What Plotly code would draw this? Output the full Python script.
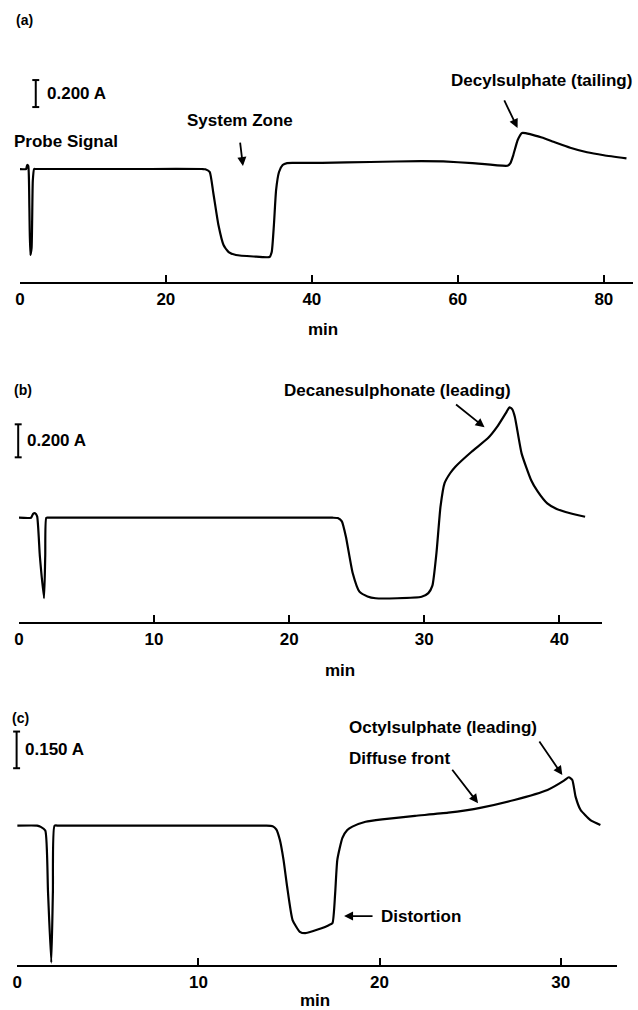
import plotly.graph_objects as go

# ---------------- data (time in min, signal in A, relative to baseline of each axis) ----------
a_t = [0, 0.85, 1.0, 1.15, 1.3, 1.43, 1.6, 1.77, 1.95, 2.15, 10.0, 18.0, 25.0, 25.4, 26.0,
       26.5, 27.2, 27.9, 28.6, 29.6, 32.0, 34.2, 34.5, 34.8, 35.1, 35.5, 36.0, 36.6, 38.0,
       41.4, 48.0, 55.0, 58.0, 62.0, 66.8, 67.2, 67.6, 68.2, 68.8, 70.0, 71.5, 73.1, 75.4,
       77.7, 80.0, 83.1]
a_v = [0.837, 0.837, 0.867, 0.859, 0.55, 0.200, 0.25, 0.75, 0.837, 0.837, 0.837, 0.837,
       0.837, 0.835, 0.815, 0.659, 0.422, 0.274, 0.222, 0.200, 0.189, 0.185, 0.222, 0.422,
       0.681, 0.815, 0.867, 0.881, 0.882, 0.883, 0.889, 0.896, 0.893, 0.881, 0.861, 0.881,
       0.941, 1.052, 1.104, 1.094, 1.070, 1.039, 0.995, 0.961, 0.939, 0.916]

b_t = [0, 0.9, 1.05, 1.2, 1.35, 1.55, 1.86, 1.95, 2.03, 2.25, 8.0, 16.0, 23.2, 23.6, 23.9,
       24.2, 24.7, 25.2, 25.8, 26.4, 28.0, 29.8, 30.3, 30.6, 30.9, 31.2, 31.5, 31.9, 32.3,
       33.5, 34.7, 35.4, 36.1, 36.3, 36.5, 36.7, 37.2, 37.9, 38.4, 39.1, 39.8, 40.8, 41.9]
b_v = [0.632, 0.632, 0.655, 0.659, 0.64, 0.40, 0.144, 0.40, 0.632, 0.632, 0.632, 0.632,
       0.632, 0.630, 0.61, 0.517, 0.297, 0.184, 0.155, 0.144, 0.144, 0.153, 0.175, 0.22,
       0.418, 0.699, 0.841, 0.90, 0.941, 1.032, 1.113, 1.184, 1.275, 1.301, 1.29, 1.244,
       1.022, 0.861, 0.79, 0.719, 0.685, 0.659, 0.638]

c_t = [0, 1.1, 1.3, 1.55, 1.7, 1.88, 1.97, 2.06, 2.3, 6.0, 10.0, 13.7, 14.1, 14.3, 14.5,
       14.7, 14.9, 15.2, 15.6, 15.9, 16.3, 16.8, 17.2, 17.4, 17.55, 17.67, 17.95, 18.22,
       18.5, 19.23, 20.14, 21.96, 23.79, 25.62, 27.44, 29.27, 30.18, 30.45, 30.64, 30.82,
       31.1, 31.64, 32.19]
c_v = [0.570, 0.570, 0.565, 0.55, 0.30, 0.01, 0.30, 0.570, 0.570, 0.570, 0.570, 0.570,
       0.568, 0.555, 0.511, 0.430, 0.320, 0.184, 0.136, 0.130, 0.138, 0.150, 0.163, 0.171,
       0.293, 0.43, 0.52, 0.552, 0.566, 0.586, 0.596, 0.610, 0.623, 0.644, 0.675, 0.716,
       0.754, 0.768, 0.757, 0.689, 0.634, 0.593, 0.573]

a_ticks = [0, 20, 40, 60, 80]
b_ticks = [0, 10, 20, 30, 40]
c_ticks = [0, 10, 20, 30]

a_scale = 0.200
b_scale = 0.200
c_scale = 0.150

# ---------------- figure ----------------
W, H = 638, 1010
FONT = "Liberation Sans"
fig = go.Figure()

panels = [
    # (t, v, xaxis, yaxis, xdomain(px), ydomain(px top,bottom), xrange, yrange, ticks)
    (a_t, a_v, "x", "y", (15, 633), (10, 282), [0, 84], [0, 2.015], a_ticks),
    (b_t, b_v, "x2", "y2", (14, 601.7), (340, 622), [0, 43.15], [0, 1.709], b_ticks),
    (c_t, c_v, "x3", "y3", (12.3, 616.7), (690, 965), [0, 33.1], [0, 1.125], c_ticks),
]

for i, (t, v, xa, ya, xd, yd, xr, yr, tk) in enumerate(panels):
    fig.add_trace(go.Scatter(x=t, y=v, xaxis=xa, yaxis=ya, mode="lines",
                             line=dict(color="black", width=2.2, shape="spline", smoothing=0.5),
                             hoverinfo="skip"))
    sfx = "" if i == 0 else str(i + 1)
    fig.update_layout(**{
        "xaxis" + sfx: dict(domain=[xd[0] / W, xd[1] / W], range=xr, anchor="y" + sfx,
                            showline=True, linecolor="black", linewidth=2,
                            ticks="inside", ticklen=7, tickwidth=2, tickcolor="black",
                            tickvals=tk, ticktext=[str(x) for x in tk],
                            tickfont=dict(family=FONT, size=17, color="black", weight="bold"),
                            ticklabelstandoff=1,
                            showgrid=False, zeroline=False, fixedrange=True),
        "yaxis" + sfx: dict(domain=[1 - yd[1] / H, 1 - yd[0] / H], range=yr,
                            anchor="x" + sfx, visible=False, fixedrange=True),
    })

ann = []

def label(text, x, y, xref, yref, size=17, xanchor="left"):
    ann.append(dict(text=text, x=x, y=y, xref=xref, yref=yref, showarrow=False,
                    xanchor=xanchor, yanchor="middle", xshift=-3 if xanchor == "left" else 0,
                    font=dict(family=FONT, size=size, color="black", weight="bold")))

def plabel(text, px, py, size=17, xanchor="left"):
    label(text, px / W, 1 - py / H, "paper", "paper", size=size, xanchor=xanchor)

def arrow(x, y, ax, ay, xref, yref):
    ann.append(dict(text="", x=x, y=y, xref=xref, yref=yref, ax=ax, ay=ay,
                    showarrow=True, arrowhead=2, arrowsize=1, arrowwidth=1.8,
                    arrowcolor="black"))

# panel (a)
plabel("(a)", 12, 20, size=14)
label("0.200 A", 3.8, 1.396, "x", "y")
plabel("Probe Signal", 10, 141)
label("System Zone", 23.09, 1.193, "x", "y")
arrow(30.56, 0.859, -3, -25, "x", "y")
label("Decylsulphate (tailing)", 59.2, 1.496, "x", "y")
arrow(68.18, 1.141, -14, -29, "x", "y")
plabel("min", 321, 329, xanchor="center")

# panel (b)
plabel("(b)", 10, 390, size=14)
label("0.200 A", 0.66, 1.097, "x2", "y2")
label("Decanesulphonate (leading)", 19.68, 1.406, "x2", "y2")
arrow(34.46, 1.18, -30, -24, "x2", "y2")
plabel("min", 338, 670, xanchor="center")

# panel (c)
plabel("(c)", 8, 718, size=14)
label("0.150 A", 0.51, 0.880, "x3", "y3")
label("Octylsulphate (leading)", 18.39, 0.970, "x3", "y3")
arrow(30.09, 0.777, -24, -35, "x3", "y3")
label("Diffuse front", 18.39, 0.843, "x3", "y3")
arrow(25.44, 0.662, -27, -35, "x3", "y3")
label("Distortion", 20.14, 0.200, "x3", "y3")
arrow(18.04, 0.200, 30, 0, "x3", "y3")
plabel("min", 312, 1000, xanchor="center")

# scale bars: vertical bar with caps, length = scale value in A
shapes = []
for xpx, y0, sc, yref in [(31, 1.296, a_scale, "y"), (13.3, 0.998, b_scale, "y2"),
                          (11.7, 0.805, c_scale, "y3")]:
    xp = xpx / W
    cap = 3.5 / W
    shapes.append(dict(type="line", xref="paper", yref=yref, x0=xp, x1=xp, y0=y0, y1=y0 + sc,
                       line=dict(color="black", width=2)))
    for yy in (y0, y0 + sc):
        shapes.append(dict(type="line", xref="paper", yref=yref, x0=xp - cap, x1=xp + cap,
                           y0=yy, y1=yy, line=dict(color="black", width=2)))

fig.update_layout(width=W, height=H, margin=dict(l=0, r=0, t=0, b=0),
                  paper_bgcolor="white", plot_bgcolor="white", showlegend=False,
                  annotations=ann, shapes=shapes)

fig.write_html("out.html", config={"displayModeBar": False},
               post_script="document.body.style.margin='0';"
                           "document.body.style.padding='0';"
                           "document.documentElement.style.overflow='hidden';"
                           "document.body.style.overflow='hidden';")
